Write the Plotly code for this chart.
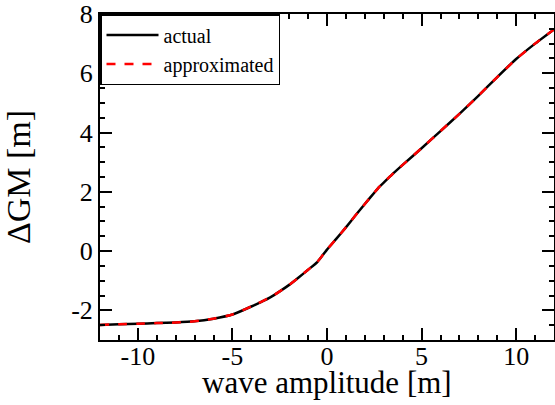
import plotly.graph_objects as go

wave_amplitude = [-12, -11, -10, -9, -8, -7, -6, -5, -4, -3, -2.5, -2, -1.5, -1, -0.5, 0,
                  0.5, 1, 1.5, 2, 2.5, 2.75, 3, 3.5, 4, 5, 6, 7, 8, 9, 10, 11, 12]
dgm_actual = [-2.49, -2.47, -2.45, -2.43, -2.41, -2.37, -2.28, -2.14, -1.87, -1.56, -1.36, -1.14,
              -0.89, -0.63, -0.36, 0.05, 0.42, 0.80, 1.20, 1.59, 1.97, 2.16, 2.31, 2.62, 2.91,
              3.47, 4.05, 4.63, 5.24, 5.87, 6.48, 7.00, 7.48]
dgm_approx = [-2.49, -2.47, -2.45, -2.43, -2.41, -2.37, -2.28, -2.14, -1.87, -1.56, -1.36, -1.14,
              -0.89, -0.63, -0.36, 0.05, 0.42, 0.80, 1.20, 1.59, 1.97, 2.16, 2.31, 2.62, 2.91,
              3.47, 4.05, 4.63, 5.24, 5.87, 6.48, 7.00, 7.48]

x_tickvals = [-10, -5, 0, 5, 10]
x_ticktext = ["-10", "-5", "0", "5", "10"]
y_tickvals = [-2, 0, 2, 4, 6, 8]
y_ticktext = ["-2", "0", "2", "4", "6", "8"]
x_title = "wave amplitude [m]"
y_title = "ΔGM [m]"

font_family = "Liberation Serif"

fig = go.Figure()
fig.add_trace(go.Scatter(x=wave_amplitude, y=dgm_actual, mode="lines", name="actual",
                         line=dict(color="black", width=2.5, shape="spline", smoothing=0.5)))
fig.add_trace(go.Scatter(x=wave_amplitude, y=dgm_approx, mode="lines", name="approximated",
                         line=dict(color="#ff0000", width=2.5, dash="dash", shape="spline", smoothing=0.5)))

axis_common = dict(showline=True, linecolor="black", linewidth=2, mirror="allticks",
                   ticks="inside", ticklen=12, tickwidth=1.5, tickcolor="black",
                   showgrid=False, zeroline=False, automargin=False,
                   ticklabeloverflow="allow",
                   tickfont=dict(family=font_family, size=26, color="black"))

fig.update_xaxes(range=[-12, 12], tickvals=x_tickvals, ticktext=x_ticktext,
                 ticklabelstandoff=-8,
                 minor=dict(dtick=1, ticks="inside", ticklen=5, tickwidth=1.5, tickcolor="black", showgrid=False),
                 **axis_common)
fig.update_yaxes(range=[-3, 8], tickvals=y_tickvals, ticktext=y_ticktext,
                 minor=dict(dtick=0.5, ticks="inside", ticklen=5, tickwidth=1.5, tickcolor="black", showgrid=False),
                 title=dict(text=y_title, font=dict(family=font_family, size=34, color="black"), standoff=34),
                 **axis_common)

fig.add_annotation(text=x_title, xref="paper", yref="paper", x=0.5, y=0,
                   xanchor="center", yanchor="top", yshift=-23, showarrow=False,
                   font=dict(family=font_family, size=31, color="black"))

fig.update_layout(
    width=555, height=405,
    margin=dict(l=100, r=1, t=14, b=65),
    paper_bgcolor="white", plot_bgcolor="white",
    font=dict(family=font_family, color="black"),
    legend=dict(x=0, y=1, xanchor="left", yanchor="top",
                bgcolor="white", bordercolor="black", borderwidth=1.5,
                font=dict(family=font_family, size=20, color="black"),
                itemwidth=52, tracegroupgap=0),
    showlegend=True,
)

fig.write_html("out.html", config={"displayModeBar": False},
               post_script="document.body.style.margin='0px';document.body.style.overflow='hidden';")
